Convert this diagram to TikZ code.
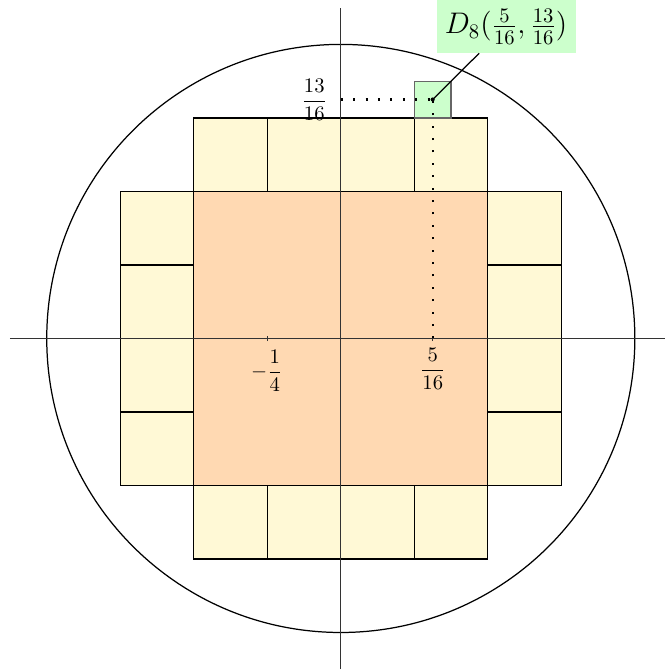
\documentclass[tikz,border=0pt]{standalone}
\usepackage{amsmath}
\definecolor{peach}{RGB}{255,217,178}
\definecolor{pale}{RGB}{255,249,214}
\definecolor{mint}{RGB}{204,255,204}
\begin{document}
\begin{tikzpicture}[x=5cm,y=5cm,
  sq/.style={draw=black,line width=0.6pt},
  axis/.style={draw=black!80,line width=0.6pt},
  dotline/.style={line width=1pt,dash pattern=on 1pt off 5pt},
  lab/.style={inner sep=0pt}]
\useasboundingbox (-1.159,-1.131) rectangle (1.1,1.151);
% central square
\fill[peach] (-0.5,-0.5) rectangle (0.5,0.5);
% small squares
\foreach \i in {0,1,2,3}{
  \draw[sq,fill=pale] ({-0.5+0.25*\i},0.5) rectangle ({-0.25+0.25*\i},0.75);
  \draw[sq,fill=pale] ({-0.5+0.25*\i},-0.75) rectangle ({-0.25+0.25*\i},-0.5);
  \draw[sq,fill=pale] (-0.75,{-0.5+0.25*\i}) rectangle (-0.5,{-0.25+0.25*\i});
  \draw[sq,fill=pale] (0.5,{-0.5+0.25*\i}) rectangle (0.75,{-0.25+0.25*\i});
}
\draw[sq] (-0.5,-0.5) rectangle (0.5,0.5);
% green square
\draw[draw=black!60,line width=0.6pt,fill=mint] (0.25,0.75) rectangle (0.375,0.875);
% circle
\coordinate (O) at (0,0);
\draw[line width=0.6pt] (O) circle (1);
% axes
\coordinate (xl) at (-1.125,0);
\coordinate (xr) at (1.125,0);
\coordinate (yb) at (0,-1.125);
\coordinate (yt) at (0,1.125);
\draw[axis] (xl) -- (xr);
\draw[axis] (yb) -- (yt);
% ticks
\coordinate (t1) at (-0.25,0);
\coordinate (t2) at (0.3125,0);
\coordinate (ty) at (0,0.8125);
\coordinate (P) at (0.3125,0.8125);
\draw[axis] ([yshift=-1.3pt]t1) -- ([yshift=1.3pt]t1);
\draw[axis] ([yshift=-1.3pt]t2) -- ([yshift=1.3pt]t2);
% dotted guides
\draw[dotline] (t2) -- (P);
\draw[dotline] (ty) -- (P);
% labels
\node[lab] (l1) at (-0.252,-0.11) {$-\dfrac{1}{4}$};
\node[lab] (l2) at (0.3128,-0.104) {$\dfrac{5}{16}$};
\node[lab] (l3) at (-0.09,0.811) {$\dfrac{13}{16}$};
\node[fill=mint,inner xsep=4pt,minimum height=25.6pt] (L) at (0.562,1.061)
  {\Large $D_8(\frac{5}{16},\frac{13}{16})$};
\draw[line width=0.6pt] (P) -- (L);
\fill (P) circle (1pt);
\end{tikzpicture}
\end{document}
